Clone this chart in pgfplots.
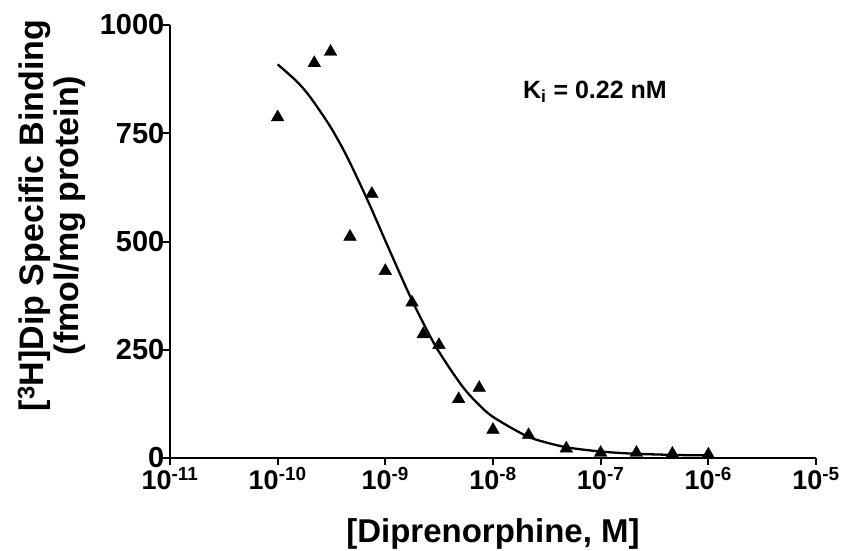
\documentclass[border=0pt]{standalone}
\usepackage{fontspec}
\setmainfont{Liberation Sans}
\usepackage{pgfplots}
\pgfplotsset{compat=1.18}
\begin{document}
\begin{tikzpicture}
\begin{axis}[
  xmode=log, scale only axis, width=646pt, height=433pt,
  xmin=1e-11, xmax=1e-5, ymin=0, ymax=1000,
  axis lines=left, axis line style={-, line width=2.2pt, black},
  tick align=outside, major tick length=7pt,
  tick style={line width=2pt, black},
  xminorticks=false, yminorticks=false,
  xtick={1e-11,1e-10,1e-9,1e-8,1e-7,1e-6,1e-5},
  xticklabels={10\textsuperscript{-11},10\textsuperscript{-10},10\textsuperscript{-9},10\textsuperscript{-8},10\textsuperscript{-7},10\textsuperscript{-6},10\textsuperscript{-5}},
  ytick={0,250,500,750,1000},
  yticklabels={0,250,500,750,1000},
  xticklabel style={font=\fontsize{27}{27}\selectfont\bfseries, inner sep=0pt, yshift=-2pt},
  yticklabel style={font=\fontsize{29}{29}\selectfont\bfseries, inner sep=0pt, xshift=1.5pt},
  xlabel={[Diprenorphine, M]},
  xlabel style={font=\fontsize{33}{33}\selectfont\bfseries, at={(axis description cs:0.5,-0.196)}, anchor=base, inner sep=0pt},
  ylabel={[\textsuperscript{3}H]Dip Specific Binding\\(fmol/mg protein)},
  ylabel style={font=\fontsize{34}{35}\selectfont\bfseries, align=center, at={(axis description cs:-0.183,0.56)}, anchor=center, inner sep=0pt},
  clip=false,
]
\addplot[smooth, line width=2.3pt, black, no marks] coordinates {
(1e-10,909) (1.5e-10,870) (2e-10,834) (3e-10,770) (4e-10,716) (5e-10,668)
(7e-10,590) (1e-9,502) (1.5e-9,403) (2e-9,337) (3e-9,254) (5e-9,171)
(7e-9,129) (1e-8,95) (2e-8,52) (3e-8,37) (5e-8,24) (1e-7,15)
(2e-7,10) (5e-7,7) (1e-6,6)
};
\addplot[only marks, mark=triangle*, mark size=7.3pt, mark options={fill=black, draw=black, line width=0.4pt}] coordinates {
(1e-10,787) (2.19e-10,912) (3.1e-10,938) (4.7e-10,511) (7.5e-10,610)
(1e-9,432) (1.77e-9,359) (2.25e-9,286) (3.15e-9,261) (4.8e-9,136)
(7.45e-9,162) (1e-8,65) (2.14e-8,53) (4.8e-8,22) (1e-7,12)
(2.15e-7,12) (4.64e-7,10) (1e-6,8)
};
\node[anchor=base west, font=\fontsize{25}{25}\selectfont\bfseries, inner sep=0pt] at (axis cs:1.9e-8,831) {K\textsubscript{i} = 0.22 nM};
\end{axis}
\pgfresetboundingbox
\path[use as bounding box] (-170pt,-92pt) rectangle (673pt,458pt);
\end{tikzpicture}
\end{document}
